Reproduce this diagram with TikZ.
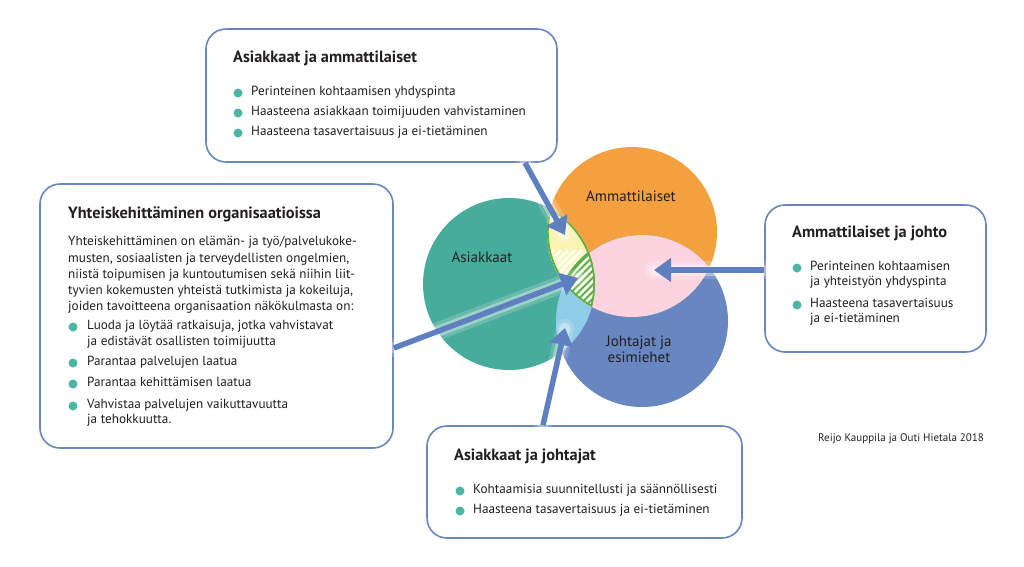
\documentclass[tikz,border=0pt]{standalone}
\usepackage{fontspec}
\setmainfont{PT Sans}
\usetikzlibrary{arrows.meta}

\definecolor{asiak}{HTML}{48AC9C}
\definecolor{ammat}{HTML}{F4A03E}
\definecolor{johto}{HTML}{6886C0}
\definecolor{keltainen}{HTML}{FAF4B2}
\definecolor{roosa}{HTML}{FBD4E0}
\definecolor{vaaleansin}{HTML}{8ECCE8}
\definecolor{vihrea}{HTML}{5DAE3E}
\definecolor{reuna}{HTML}{6A86C2}
\definecolor{nuoli}{HTML}{5F80C0}
\definecolor{piste}{HTML}{4DB5A3}
\definecolor{musta}{HTML}{231F20}

\tikzset{
  laatikko/.style={draw=reuna, line width=1.6pt, rounded corners=20pt, fill=white, inner sep=0pt},
  otsikko/.style={anchor=mid west, inner sep=0pt, text=musta, font=\fontsize{16.3}{18}\selectfont\bfseries},
  teksti/.style={anchor=mid west, inner sep=0pt, text=musta, font=\fontsize{13.2}{15}\selectfont},
  pallo/.style={circle, fill=piste, inner sep=0pt, minimum size=9pt},
  ympyra/.style={text=musta, font=\fontsize{15}{17}\selectfont, align=center},
  nuolet/.style={draw=nuoli, line width=5.5pt, -{Triangle[length=17pt,width=23pt]}},
  hehku/.style={draw=white, line width=18pt, opacity=0.18, line cap=round},
  hehku2/.style={draw=white, line width=11pt, opacity=0.35, line cap=round},
}

\begin{document}
\begin{tikzpicture}[x=1pt,y=-1pt]
	\useasboundingbox (0,0) rectangle (1024,566);

	\coordinate (cA) at (509,284);
	\coordinate (cM) at (632,232);
	\coordinate (cJ) at (642,321);

	% ympyrat
	\fill[asiak] (cA) circle (86);
	\fill[ammat] (cM) circle (85);
	\fill[johto] (cJ) circle (86);

	\begin{scope}
		\clip (cA) circle (86);
		\fill[keltainen] (cM) circle (85);
		\fill[vaaleansin] (cJ) circle (86);
	\end{scope}
	\begin{scope}
		\clip (cM) circle (85);
		\fill[roosa] (cJ) circle (86);
	\end{scope}
	\begin{scope}
		\clip (cA) circle (86);
		\clip (cM) circle (85);
		\fill[vihrea] (cJ) circle (86);
		\foreach \s in {-56,-49,...,63}
			\draw[white, line width=2.6pt] (530+\s,330) -- ++(80,-80);
		\draw[vihrea, line width=3.4pt] (cA) circle (86) (cM) circle (85) (cJ) circle (86);
	\end{scope}

	\node[ympyra] (nA) at (482,257) {Asiakkaat};
	\node[ympyra] (nM) at (631,196) {Ammattilaiset};
	\node[ympyra] (nJ) at (639,349) {Johtajat ja\\[-1pt]esimiehet};

	% laatikot
	\node[laatikko, minimum width=351pt, minimum height=133pt] (ylae) at (381.5,95.5) {};
	\node[laatikko, minimum width=353pt, minimum height=264pt] (vasen) at (216.5,316) {};
	\node[laatikko, minimum width=221pt, minimum height=147pt] (oikea) at (875.5,278.5) {};
	\node[laatikko, minimum width=315pt, minimum height=112pt] (alae) at (584.5,482) {};

	% nuolet
	\coordinate (xa) at (525,0);
	\coordinate (yb) at (0,348);
	\coordinate (yc) at (0,270);
	\coordinate (xd) at (543,0);
	\coordinate (kA) at (565,235);
	\coordinate (kB) at (578,278);
	\coordinate (kC) at (654,270);
	\coordinate (kD) at (565,328);

	\foreach \tyyli in {hehku,hehku2} {
		\draw[\tyyli] (ylae.south -| xa) -- (kA);
		\draw[\tyyli] (vasen.east |- yb) -- (kB);
		\draw[\tyyli] (oikea.west |- yc) -- (kC);
		\draw[\tyyli] (alae.north -| xd) -- (kD);
	}

	\draw[nuolet] (ylae.south -| xa) -- (kA);
	\draw[nuolet] (vasen.east |- yb) -- (kB);
	\draw[nuolet] (oikea.west |- yc) -- (kC);
	\draw[nuolet] (alae.north -| xd) -- (kD);

	% ylae
	\node[otsikko] (o1) at (233,60) {Asiakkaat ja ammattilaiset};
	\node[pallo] (p11) at (238,93) {};
	\node[teksti] (t11) at (251,93) {Perinteinen kohtaamisen yhdyspinta};
	\node[pallo] (p12) at (238,113) {};
	\node[teksti] (t12) at (251,113) {Haasteena asiakkaan toimijuuden vahvistaminen};
	\node[pallo] (p13) at (238,133) {};
	\node[teksti] (t13) at (251,133) {Haasteena tasavertaisuus ja ei-tietäminen};

	% vasen
	\node[otsikko] (o2) at (68,216) {Yhteiskehittäminen organisaatioissa};
	\node[teksti] (r1) at (68,243) {Yhteiskehittäminen on elämän- ja työ/palvelukoke-};
	\node[teksti] (r2) at (68,260) {musten, sosiaalisten ja terveydellisten ongelmien,};
	\node[teksti] (r3) at (68,276) {niistä toipumisen ja kuntoutumisen sekä niihin liit-};
	\node[teksti] (r4) at (68,292) {tyvien kokemusten yhteistä tutkimista ja kokeiluja,};
	\node[teksti] (r5) at (68,308) {joiden tavoitteena organisaation näkökulmasta on:};
	\node[pallo] (p21) at (73,327) {};
	\node[teksti] (t21) at (87,327) {Luoda ja löytää ratkaisuja, jotka vahvistavat};
	\node[teksti] (t21b) at (87,343) {ja edistävät osallisten toimijuutta};
	\node[pallo] (p22) at (73,363) {};
	\node[teksti] (t22) at (87,363) {Parantaa palvelujen laatua};
	\node[pallo] (p23) at (73,384) {};
	\node[teksti] (t23) at (87,384) {Parantaa kehittämisen laatua};
	\node[pallo] (p24) at (73,406) {};
	\node[teksti] (t24) at (87,406) {Vahvistaa palvelujen vaikuttavuutta};
	\node[teksti] (t24b) at (87,421) {ja tehokkuutta.};

	% oikea
	\node[otsikko] (o3) at (792,235) {Ammattilaiset ja johto};
	\node[pallo] (p31) at (797,268) {};
	\node[teksti] (t31) at (810,268) {Perinteinen kohtaamisen};
	\node[teksti] (t31b) at (810,283) {ja yhteistyön yhdyspinta};
	\node[pallo] (p32) at (797,305) {};
	\node[teksti] (t32) at (810,305) {Haasteena tasavertaisuus};
	\node[teksti] (t32b) at (810,320) {ja ei-tietäminen};

	% alae
	\node[otsikko] (o4) at (454,458) {Asiakkaat ja johtajat};
	\node[pallo] (p41) at (460,491) {};
	\node[teksti] (t41) at (473,491) {Kohtaamisia suunnitellusti ja säännöllisesti};
	\node[pallo] (p42) at (460,511) {};
	\node[teksti] (t42) at (473,511) {Haasteena tasavertaisuus ja ei-tietäminen};

	\node[teksti, font=\fontsize{11}{13}\selectfont] (tekija) at (818,439) {Reijo Kauppila ja Outi Hietala 2018};
\end{tikzpicture}
\end{document}
